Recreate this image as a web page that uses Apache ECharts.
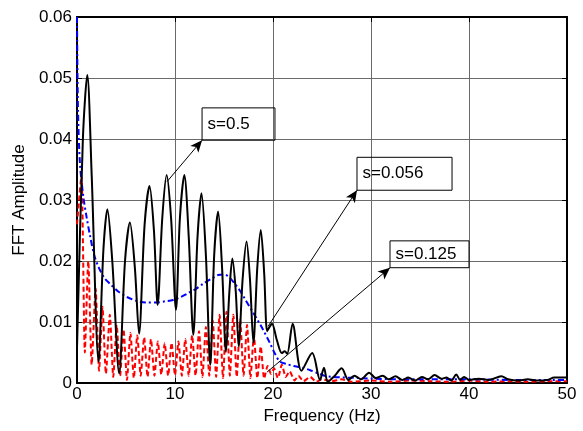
<!DOCTYPE html>
<html>
<head>
<meta charset="utf-8">
<script src="https://cdn.jsdelivr.net/npm/echarts@6/dist/echarts.min.js"></script>
<style>
  html, body { margin: 0; padding: 0; background: #fff; }
  #chart { width: 583px; height: 431px; }
</style>
</head>
<body>
<div id="chart"></div>
<script>
// Spectrum of the s = 0.5 response (solid black)
const freqS050 = [0, 0.6, 1.05, 1.5, 2.2, 2.7, 3.1, 3.6, 4.3, 4.9, 5.4, 5.9, 6.33, 6.9, 7.4, 7.85, 8.23, 8.7, 9.15, 9.6, 10.1, 10.5, 10.95, 11.4, 11.87, 12.3, 12.7, 13.15, 13.6, 14.0, 14.4, 14.8, 15.2, 15.55, 15.85, 16.2, 16.5, 16.9, 17.3, 17.65, 18.0, 18.4, 18.75, 19.1, 19.4, 19.65, 19.9, 20.4, 20.9, 21.2, 21.45, 22.0, 22.9, 24.0, 24.8, 25.2, 25.6, 26.3, 27.0, 27.7, 28.3, 29.0, 29.8, 30.5, 31.2, 31.8, 32.5, 33.2, 33.8, 34.5, 35.2, 35.8, 36.5, 37.2, 37.7, 38.2, 38.7, 39.1, 39.5, 40.0, 41.0, 42.0, 43.3, 44.0, 45.0, 46.0, 47.0, 48.0, 48.7, 49.5, 50.0];
const ampS050 = [0.0057, 0.040, 0.0505, 0.034, 0.0035, 0.022, 0.0285, 0.020, 0.0016, 0.020, 0.0263, 0.019, 0.0081, 0.026, 0.0323, 0.025, 0.0128, 0.027, 0.0341, 0.027, 0.012, 0.027, 0.0341, 0.024, 0.0079, 0.024, 0.0311, 0.021, 0.003, 0.021, 0.0281, 0.019, 0.0051, 0.015, 0.0204, 0.015, 0.006, 0.017, 0.0232, 0.017, 0.0066, 0.019, 0.0251, 0.018, 0.0085, 0.0092, 0.0097, 0.007, 0.0049, 0.0052, 0.0048, 0.0097, 0.002, 0.0049, 0.0005, 0.0025, 0.0002, 0.0012, 0.0024, 0.0005, 0.0012, 0.0006, 0.0017, 0.0008, 0.0012, 0.0006, 0.0011, 0.0005, 0.0009, 0.0004, 0.001, 0.0006, 0.0013, 0.0007, 0.0009, 0.0004, 0.0014, 0.0005, 0.001, 0.0005, 0.0007, 0.0005, 0.0011, 0.0006, 0.0004, 0.0006, 0.0004, 0.0005, 0.0009, 0.0009, 0.0009];

// Spectrum of the s = 0.056 response (blue dash-dot)
const freqS056 = [0, 0.1, 0.3, 0.65, 1.0, 1.35, 1.75, 2.2, 2.8, 3.4, 4.2, 5.1, 6.0, 7.0, 8.1, 9.0, 9.8, 10.6, 11.3, 12.1, 12.9, 13.7, 14.4, 15.0, 15.5, 16.1, 16.6, 17.2, 17.8, 18.4, 19.0, 19.7, 20.2, 20.7, 21.4, 22.1, 23.0, 23.8, 24.6, 25.5, 29.0, 33.0, 40.0, 45.0, 50.0];
const ampS056 = [0.060, 0.045, 0.036, 0.0305, 0.027, 0.024, 0.021, 0.019, 0.0172, 0.0162, 0.015, 0.0141, 0.0135, 0.0132, 0.0132, 0.0134, 0.0136, 0.0141, 0.0147, 0.0154, 0.0163, 0.0171, 0.0177, 0.0178, 0.0174, 0.0163, 0.0152, 0.0136, 0.012, 0.0104, 0.0087, 0.0065, 0.0048, 0.0035, 0.0031, 0.0028, 0.0025, 0.0021, 0.0016, 0.0011, 0.0008, 0.0006, 0.0006, 0.0005, 0.0005];

// Spectrum of the s = 0.125 response (red dashed)
const freqS125 = [0, 0.45, 0.8, 1.15, 1.5, 1.9, 2.25, 2.6, 2.95, 3.35, 3.7, 4.05, 4.4, 4.75, 5.1, 5.45, 5.8, 6.15, 6.5, 6.85, 7.2, 7.55, 7.9, 8.25, 8.6, 8.95, 9.3, 9.65, 10.0, 10.35, 10.7, 11.05, 11.4, 11.75, 12.1, 12.45, 12.8, 13.15, 13.5, 13.85, 14.2, 14.55, 14.9, 15.25, 15.6, 15.95, 16.3, 16.65, 17.0, 17.35, 17.7, 18.05, 18.4, 18.75, 19.1, 19.45, 19.8, 20.1, 20.5, 20.9, 21.3, 21.7, 22.2, 22.6, 23.1, 23.8, 24.4, 25.0, 26.0, 27.0, 28.0, 30.0, 32.0, 34.0, 36.0, 38.0, 40.0, 42.0, 44.0, 46.0, 48.0, 50.0];
const ampS125 = [0.026, 0.034, 0.005, 0.020, 0.003, 0.0155, 0.002, 0.0125, 0.0015, 0.0112, 0.001, 0.0095, 0.0012, 0.0088, 0.0005, 0.0082, 0.0008, 0.0078, 0.0012, 0.0075, 0.001, 0.0072, 0.0012, 0.0068, 0.0014, 0.0065, 0.0012, 0.0066, 0.0013, 0.0068, 0.0012, 0.0072, 0.0012, 0.0078, 0.0012, 0.0085, 0.001, 0.0092, 0.0012, 0.0102, 0.001, 0.0112, 0.0008, 0.0117, 0.0012, 0.0112, 0.001, 0.0104, 0.0012, 0.0095, 0.0008, 0.0078, 0.0008, 0.006, 0.0007, 0.0028, 0.0015, 0.0024, 0.0008, 0.003, 0.001, 0.0019, 0.0004, 0.0012, 0.0003, 0.001, 0.0002, 0.0006, 0.0003, 0.0006, 0.0002, 0.0004, 0.0002, 0.0004, 0.0003, 0.0002, 0.0004, 0.0002, 0.0003, 0.0002, 0.0003, 0.0003];

// Axis ticks
const xTicks = [0, 10, 20, 30, 40, 50];
const yTicks = [0, 0.01, 0.02, 0.03, 0.04, 0.05, 0.06];

// Callouts: label, arrow tail on the curve, arrow head, box corners (data units)
const callouts = [
  { text: 's=0.5',   tail: [9.18, 0.0330], head: [12.76, 0.0398], box: [[12.76, 0.0451], [20.2, 0.0398]] },
  { text: 's=0.056', tail: [19.5, 0.0093], head: [28.57, 0.0316], box: [[28.57, 0.0370], [38.27, 0.0316]] },
  { text: 's=0.125', tail: [19.4, 0.0018], head: [31.94, 0.0189], box: [[31.94, 0.0233], [40.0, 0.0189]] }
];

const zip = (xs, ys) => xs.map((x, i) => [x, ys[i]]);
const font = 'Liberation Sans, Arial, sans-serif';

const chart = echarts.init(document.getElementById('chart'), null, { renderer: 'canvas' });

const frameAxis = {
  axisLine: { show: true, onZero: false, lineStyle: { color: '#000', width: 2 } },
  axisTick: { show: true, inside: true, length: 5, lineStyle: { color: '#000', width: 1 } },
  axisLabel: { show: false },
  splitLine: { show: false }
};

chart.setOption({
  animation: false,
  backgroundColor: '#fff',
  grid: { left: 77, right: 16, top: 17, bottom: 48, containLabel: false },
  xAxis: [
    {
      type: 'value', min: xTicks[0], max: xTicks[xTicks.length - 1], interval: 10,
      name: 'Frequency (Hz)', nameLocation: 'middle', nameGap: 19,
      nameTextStyle: { fontFamily: font, fontSize: 17, color: '#000' },
      axisLine: { show: true, onZero: false, lineStyle: { color: '#000', width: 2 } },
      axisTick: { show: true, inside: true, length: 5, lineStyle: { color: '#000' } },
      axisLabel: { fontFamily: font, fontSize: 17, color: '#000', margin: 3 },
      splitLine: { show: true, lineStyle: { color: '#6a6a6a', width: 1 } }
    },
    Object.assign({ type: 'value', position: 'top', min: 0, max: 50, interval: 10 }, frameAxis)
  ],
  yAxis: [
    {
      type: 'value', min: yTicks[0], max: yTicks[yTicks.length - 1], interval: 0.01,
      name: 'FFT Amplitude', nameLocation: 'middle', nameGap: 46,
      nameTextStyle: { fontFamily: font, fontSize: 17, color: '#000' },
      axisLine: { show: true, onZero: false, lineStyle: { color: '#000', width: 2 } },
      axisTick: { show: true, inside: true, length: 5, lineStyle: { color: '#000' } },
      axisLabel: {
        fontFamily: font, fontSize: 17, color: '#000', margin: 5,
        formatter: v => (v === 0 ? '0' : v.toFixed(2))
      },
      splitLine: { show: true, lineStyle: { color: '#6a6a6a', width: 1 } }
    },
    Object.assign({ type: 'value', position: 'right', min: 0, max: 0.06, interval: 0.01 }, frameAxis)
  ],
  series: [
    {
      name: 's=0.125', type: 'line', data: zip(freqS125, ampS125),
      showSymbol: false, smooth: 0.2, z: 2,
      lineStyle: { color: '#ff0000', width: 2, type: [5, 3] }
    },
    {
      name: 's=0.056', type: 'line', data: zip(freqS056, ampS056),
      showSymbol: false, smooth: 0.3, z: 3,
      lineStyle: { color: '#0000ff', width: 2, type: [6, 3, 2, 3] }
    },
    {
      name: 's=0.5', type: 'line', data: zip(freqS050, ampS050),
      showSymbol: false, smooth: 0.3, z: 4,
      lineStyle: { color: '#000', width: 2 },
      markLine: {
        silent: true, animation: false,
        symbol: ['none', 'arrow'], symbolSize: [8, 12],
        lineStyle: { color: '#000', width: 1, type: 'solid' },
        label: { show: false },
        data: callouts.map(c => [{ coord: c.tail }, { coord: c.head }])
      },
      markArea: {
        silent: true,
        itemStyle: { color: 'rgba(0,0,0,0)', borderColor: '#000', borderWidth: 1 },
        label: {
          show: true, position: 'insideLeft', distance: 6,
          fontFamily: font, fontSize: 17, color: '#000'
        },
        data: callouts.map(c => [
          { coord: c.box[0], name: c.text },
          { coord: c.box[1] }
        ])
      }
    }
  ]
});
</script>
</body>
</html>
